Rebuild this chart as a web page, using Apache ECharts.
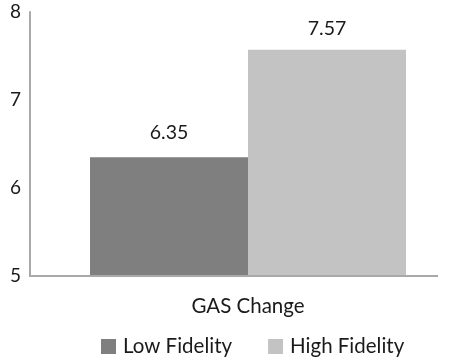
<!DOCTYPE html>
<html>
<head>
<meta charset="utf-8">
<script src="https://cdn.jsdelivr.net/npm/echarts@6/dist/echarts.min.js"></script>
<style>
  html, body { margin: 0; padding: 0; background: #ffffff; }
  #chart { width: 458px; height: 360px; }
</style>
</head>
<body>
<div id="chart"></div>
<script>
// GAS change by fidelity condition
const categories = ['GAS Change'];
const seriesNames = ['Low Fidelity', 'High Fidelity'];
const lowFidelity = [6.35];
const highFidelity = [7.57];
const yTicks = [5, 6, 7, 8];

const FONT = 'Lato';
const AXIS_GREY = '#a9a9a9';

const chart = echarts.init(document.getElementById('chart'), null, { renderer: 'canvas' });

const option = {
  animation: false,
  backgroundColor: '#ffffff',
  textStyle: { fontFamily: FONT, color: '#1a1a1a' },
  grid: { left: 58, right: 20, top: 12, bottom: 84, containLabel: false, outerBoundsMode: 'none' },
  legend: {
    bottom: -2,
    left: 96,
    itemWidth: 15,
    itemHeight: 15,
    itemGap: 36,
    icon: 'rect',
    textStyle: { fontFamily: FONT, fontSize: 20.5, color: '#1a1a1a', padding: [0, 0, 0, 2] },
    data: seriesNames
  },
  xAxis: {
    type: 'category',
    data: categories,
    axisLine: { show: false },
    axisTick: { show: false },
    axisLabel: { fontFamily: FONT, fontSize: 20.5, color: '#1a1a1a', margin: 20 }
  },
  yAxis: {
    type: 'value',
    min: yTicks[0],
    max: yTicks[yTicks.length - 1],
    interval: 1,
    offset: 28,
    axisLine: { show: true, lineStyle: { color: AXIS_GREY, width: 2 } },
    axisTick: { show: false },
    splitLine: { show: false },
    axisLabel: { fontFamily: FONT, fontSize: 19, color: '#1a1a1a', margin: 9, padding: [0, 0, 6, 0] }
  },
  series: [
    {
      name: seriesNames[0],
      type: 'bar',
      data: lowFidelity,
      barWidth: 158,
      barGap: '0%',
      itemStyle: { color: '#7f7f7f' },
      label: { show: true, position: 'top', distance: 14, fontFamily: FONT, fontSize: 19.5, color: '#1a1a1a',
               formatter: p => p.value.toFixed(2) }
    },
    {
      name: seriesNames[1],
      type: 'bar',
      data: highFidelity,
      barWidth: 158,
      barGap: '0%',
      itemStyle: { color: '#c3c3c3' },
      label: { show: true, position: 'top', distance: 11, fontFamily: FONT, fontSize: 19.5, color: '#1a1a1a',
               formatter: p => p.value.toFixed(2) }
    }
  ]
};

chart.setOption(option);

// Horizontal base line of the plot, running from the y axis to the right end of the grid
const baseY = chart.convertToPixel({ yAxisIndex: 0 }, yTicks[0]);
const gridRight = 458 - option.grid.right;
const axisX = option.grid.left - option.yAxis.offset;
chart.setOption({
  graphic: [{
    type: 'line',
    z: 10,
    shape: { x1: axisX - 1, y1: baseY, x2: gridRight, y2: baseY },
    style: { stroke: AXIS_GREY, lineWidth: 2 }
  }]
});
</script>
</body>
</html>
